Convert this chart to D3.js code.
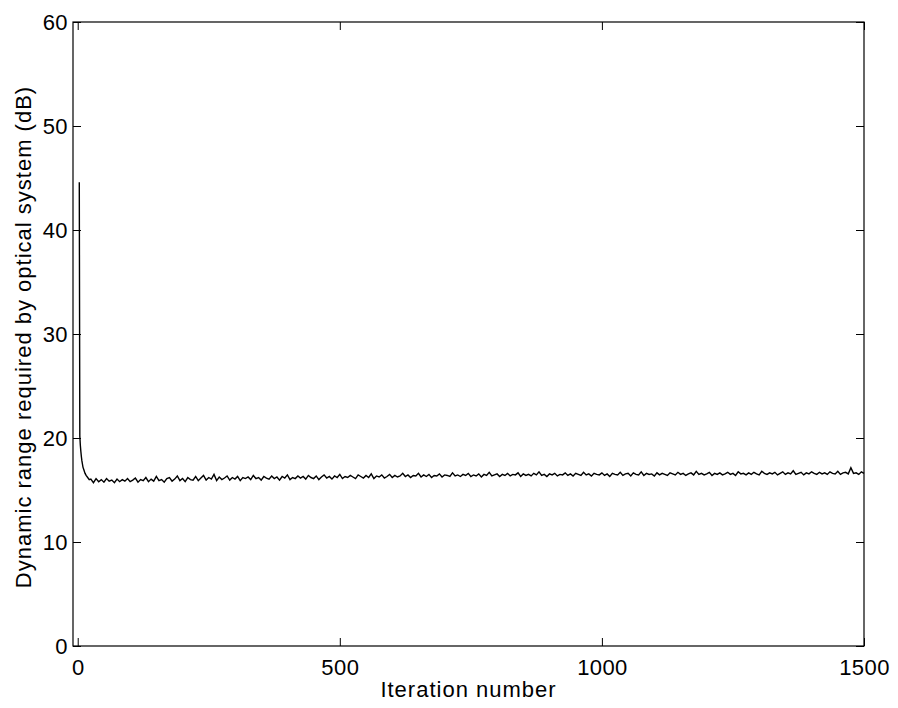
<!DOCTYPE html>
<html>
<head>
<meta charset="utf-8">
<script src="https://cdn.jsdelivr.net/npm/d3@7"></script>
<style>
  html, body { margin: 0; padding: 0; background: #fff; }
  svg { display: block; }
  text { font-family: "Liberation Sans", Arial, Helvetica, sans-serif; fill: #000; }
</style>
</head>
<body>
<svg id="chart" width="898" height="708"></svg>
<script>
// Early iterations: steep fall from the initial value
const transientIter = [3, 4, 5, 6, 7, 8, 9, 10, 12, 14, 16, 19, 22];
const transientDb   = [44.6, 20.2, 19.3, 18.7, 18.2, 17.8, 17.5, 17.2, 16.9, 16.6, 16.4, 16.2, 16.0];

// Settled behaviour, sampled every 5 iterations from iteration 25 to 1500
const steadyStart = 25;
const steadyStep = 5;
const steadyDb = [
  16.05,15.7,16.1,15.8,16.0,15.75,16.1,15.85,15.95,15.7,16.05,15.8,16.0,15.85,16.1,15.8,15.95,16.15,15.75,16.0,
  15.9,16.2,15.8,16.05,15.85,16.3,15.9,16.0,15.75,16.1,16.2,15.85,16.05,16.35,15.9,16.1,15.8,16.2,16.0,15.95,
  16.3,15.9,16.15,16.4,15.95,16.2,16.05,16.5,15.9,16.25,16.0,16.15,16.35,15.95,16.2,16.05,16.3,15.9,16.2,16.1,
  16.25,16.0,16.4,16.1,16.2,15.95,16.3,16.15,16.05,16.35,16.1,16.25,15.95,16.3,16.15,16.45,16.0,16.2,16.1,16.35,
  16.15,16.3,16.05,16.4,16.2,16.1,16.35,16.0,16.25,16.45,16.15,16.3,16.05,16.35,16.2,16.5,16.1,16.3,16.2,16.4,
  16.25,16.1,16.45,16.3,16.15,16.4,16.2,16.55,16.1,16.35,16.25,16.45,16.15,16.3,16.5,16.2,16.4,16.25,16.35,16.6,
  16.3,16.45,16.2,16.4,16.35,16.6,16.25,16.45,16.3,16.5,16.2,16.4,16.35,16.55,16.25,16.45,16.4,16.3,16.65,16.35,
  16.45,16.3,16.5,16.4,16.6,16.3,16.45,16.35,16.55,16.25,16.5,16.4,16.7,16.35,16.45,16.55,16.3,16.5,16.4,16.6,
  16.35,16.5,16.45,16.65,16.3,16.55,16.4,16.5,16.35,16.6,16.45,16.75,16.4,16.5,16.3,16.55,16.45,16.6,16.35,16.5,
  16.45,16.65,16.4,16.55,16.35,16.6,16.5,16.4,16.7,16.45,16.55,16.35,16.6,16.5,16.45,16.65,16.4,16.55,16.3,16.6,
  16.5,16.45,16.7,16.4,16.55,16.6,16.35,16.65,16.5,16.45,16.75,16.4,16.6,16.5,16.55,16.35,16.65,16.45,16.6,16.5,
  16.4,16.65,16.55,16.45,16.7,16.5,16.6,16.4,16.55,16.65,16.45,16.8,16.5,16.6,16.45,16.55,16.7,16.4,16.6,16.5,
  16.65,16.45,16.55,16.7,16.5,16.6,16.4,16.75,16.55,16.6,16.45,16.65,16.5,16.7,16.55,16.45,16.8,16.6,16.5,16.65,
  16.55,16.7,16.45,16.6,16.75,16.5,16.65,16.55,16.85,16.5,16.6,16.7,16.45,16.65,16.55,16.75,16.6,16.5,16.7,16.55,
  16.65,16.5,16.75,16.6,16.55,16.8,16.5,16.65,16.7,16.55,17.15,16.6,16.65,16.5,16.75,16.6
];

const xTicks = [0, 500, 1000, 1500];
const yTicks = [0, 10, 20, 30, 40, 50, 60];
const xLabel = "Iteration number";
const yLabel = "Dynamic range required by optical system (dB)";

const points = transientIter.map((it, i) => [it, transientDb[i]])
  .concat(steadyDb.map((v, i) => [steadyStart + i * steadyStep, v]));

const svg = d3.select("#chart");
const box = { left: 73, right: 864, top: 22, bottom: 646 };
const tickLen = 8;
const fontFamily = "'Liberation Sans', Arial, Helvetica, sans-serif";
const fontSize = 22;

svg.append("rect").attr("width", 898).attr("height", 708).attr("fill", "#fff");

const x = d3.scaleLinear().domain([-9, 1500]).range([box.left, box.right]);
const y = d3.scaleLinear().domain([0, 60]).range([box.bottom, box.top]);

// Data line
svg.append("path")
  .datum(points)
  .attr("fill", "none")
  .attr("stroke", "#000")
  .attr("stroke-width", 1.4)
  .attr("stroke-linejoin", "miter")
  .attr("d", d3.line().x(d => x(d[0])).y(d => y(d[1])));

// Axes with inward ticks on all four sides
const fmt = d3.format("d");
const bottomAxis = d3.axisBottom(x).tickValues(xTicks).tickFormat(fmt).tickSizeInner(-tickLen).tickSizeOuter(0).tickPadding(0);
const topAxis = d3.axisTop(x).tickValues(xTicks).tickSizeInner(-tickLen).tickSizeOuter(0).tickFormat("");
const leftAxis = d3.axisLeft(y).tickValues(yTicks).tickFormat(fmt).tickSizeInner(-tickLen).tickSizeOuter(0).tickPadding(0);
const rightAxis = d3.axisRight(y).tickValues(yTicks).tickSizeInner(-tickLen).tickSizeOuter(0).tickFormat("");

function styleAxis(g) {
  g.select(".domain").remove();
  g.attr("font-family", fontFamily).attr("font-size", fontSize);
  g.selectAll(".tick line").attr("stroke", "#000").attr("stroke-width", 1);
  g.selectAll(".tick text").attr("fill", "#000").attr("letter-spacing", 0.4);
}

const gB = svg.append("g").attr("transform", `translate(0,${box.bottom})`).call(bottomAxis).call(styleAxis);
gB.selectAll(".tick text").attr("y", 29).attr("dy", 0);

svg.append("g").attr("transform", `translate(0,${box.top})`).call(topAxis).call(styleAxis);

const gL = svg.append("g").attr("transform", `translate(${box.left},0)`).call(leftAxis).call(styleAxis);
gL.selectAll(".tick text").attr("x", -5).attr("dy", "0.36em").attr("text-anchor", "end");

svg.append("g").attr("transform", `translate(${box.right},0)`).call(rightAxis).call(styleAxis);

// Frame
svg.append("rect")
  .attr("x", box.left).attr("y", box.top)
  .attr("width", box.right - box.left).attr("height", box.bottom - box.top)
  .attr("fill", "none").attr("stroke", "#000").attr("stroke-width", 1.2);

// Axis titles
svg.append("text")
  .attr("x", (box.left + box.right) / 2)
  .attr("y", 697)
  .attr("text-anchor", "middle")
  .attr("font-size", fontSize)
  .attr("letter-spacing", 1)
  .text(xLabel);

svg.append("text")
  .attr("transform", `translate(31,${(box.top + box.bottom) / 2 + 3}) rotate(-90)`)
  .attr("text-anchor", "middle")
  .attr("font-size", fontSize)
  .attr("letter-spacing", 1)
  .text(yLabel);
</script>
</body>
</html>
